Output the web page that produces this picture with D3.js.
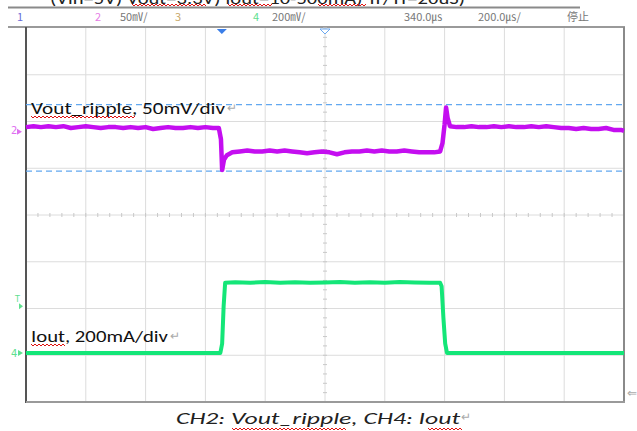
<!DOCTYPE html>
<html><head><meta charset="utf-8">
<script src="https://cdn.jsdelivr.net/npm/d3@7"></script>
<style>body{margin:0;background:#fff}svg{display:block}</style>
</head><body>
<script>
// ---- data ----
const timeDomain = [0, 2000];            // µs, 200 µs/div, 10 div
const divDomain = [-4, 4];               // 8 vertical divisions
const ch2Scale = 50;                     // mV/div
const ch4Scale = 200;                    // mA/div
const ch2Offset = 1.78;                  // div
const ch4Offset = -2.95;                 // div
const cursorsMv = [29, -42];             // CH2 cursors (mV)
const headerLabels = ["1","2","50㎷/","3","4","200㎷/","340.0㎲","200.0㎲/","停止"];
const titleText = "(Vin=5V) Vout=3.3V) Iout=10-500mA) Tr/Tf=20uS)";
const label1 = "Vout_ripple, 50mV/div";
const label2 = "Iout, 200mA/div";
const caption = "CH2: Vout_ripple, CH4: Iout";
const ch2Time = [0,25,50,75,100,125,150,175,200,225,250,275,300,325,350,375,400,425,450,475,500,525,550,575,600,625,645,652,656,662,672,690,715,740,765,790,815,840,865,890,915,940,965,990,1015,1040,1065,1090,1115,1140,1165,1190,1215,1240,1265,1290,1315,1340,1365,1385,1393,1400,1405,1410,1418,1440,1465,1490,1515,1540,1565,1590,1615,1640,1665,1690,1715,1740,1765,1790,1815,1840,1865,1890,1915,1940,1965,1990,2000];
const ch2Mv = [5,6,5,6,5,6,4,5,6,5,4,5,5,4,5,4,5,3,4,5,4,4,5,4,5,4,4,-8,-41,-30,-25,-22,-21,-20,-21,-21,-20,-21,-20,-21,-22,-23,-22,-21,-22,-24,-22,-21,-21,-20,-21,-20,-21,-21,-20,-21,-22,-22,-22,-21,-12,8,26,15,6,5,5,6,5,5,6,5,6,5,5,6,5,6,5,4,4,3,4,3,3,4,2,2,1];
const ch4Time = [0,300,650,656,661,666,700,750,800,850,900,950,1000,1050,1100,1150,1200,1250,1300,1350,1385,1390,1396,1402,1408,1500,2000];
const ch4Ma = [0,0,0,40,200,300,302,300,303,300,302,300,301,303,300,302,300,303,301,300,300,285,150,40,0,0,0];

// ---- layout ----
const W = 637, H = 431;
const L = 26, R = 624, T = 28, B = 402;
const svg = d3.select("body").append("svg").attr("width", W).attr("height", H);
svg.append("rect").attr("width", W).attr("height", H).attr("fill", "#fff");

const x = d3.scaleLinear().domain(timeDomain).range([L, R]);
const y = d3.scaleLinear().domain(divDomain).range([B, T]);

// title (clipped at top)
svg.append("text").attr("x", 50).attr("y", 4).attr("font-family", "Calibri, 'Liberation Sans', sans-serif")
  .attr("font-size", 17).attr("fill", "#222").attr("textLength", 415).attr("lengthAdjust", "spacingAndGlyphs").text(titleText);

function squiggle(x0, x1, yy) {
  let p = `M${x0},${yy}`;
  for (let xx = x0, i = 0; xx < x1; xx += 2, i++) p += `L${xx + 2},${yy + (i % 2 ? 0 : 2)}`;
  svg.append("path").attr("d", p).attr("fill", "none").attr("stroke", "#e01010").attr("stroke-width", 1);
}
[[132,205],[228,272],[318,365]].forEach(s => squiggle(s[0], s[1], 4));

// header lines
svg.append("line").attr("x1", 8).attr("x2", 580).attr("y1", 7.5).attr("y2", 7.5).attr("stroke", "#8a8a8a").attr("stroke-width", 2);
svg.append("line").attr("x1", 8).attr("x2", R + 1).attr("y1", 27).attr("y2", 27).attr("stroke", "#9a9a9a").attr("stroke-width", 2);

// header labels
const hx = [17, 95, 120, 175, 253, 272, 404, 478, 567];
const hc = ["#6a6ad8", "#e67ce6", "#777", "#c8a86a", "#5ee08e", "#777", "#777", "#777", "#777"];
svg.selectAll("text.hdr").data(headerLabels).enter().append("text").attr("class", "hdr")
  .attr("x", (d, i) => hx[i]).attr("y", 21).attr("fill", (d, i) => hc[i])
  .attr("font-family", "'Noto Sans CJK SC', 'DejaVu Sans', sans-serif").attr("font-size", 11)
  .text(d => d);

// grid
const gx = d3.range(1, 10).map(i => timeDomain[0] + i * 200);
const gy = d3.range(-3, 4);
const grid = svg.append("g");
grid.selectAll("line.v").data(gx).enter().append("line").attr("x1", d => x(d)).attr("x2", d => x(d))
  .attr("y1", T).attr("y2", B).attr("stroke", "#dcdcdc").attr("stroke-width", 1);
grid.selectAll("line.h").data(gy).enter().append("line").attr("y1", d => y(d)).attr("y2", d => y(d))
  .attr("x1", L).attr("x2", R).attr("stroke", "#dcdcdc").attr("stroke-width", 1);
// minor ticks on center axes
const minorX = d3.range(0, 51).map(i => timeDomain[0] + i * 40);
grid.selectAll("line.mx").data(minorX).enter().append("line").attr("x1", d => x(d)).attr("x2", d => x(d))
  .attr("y1", y(0) - 2).attr("y2", y(0) + 2).attr("stroke", "#c8c8c8");
const minorY = d3.range(-20, 21).map(i => i / 5);
grid.selectAll("line.my").data(minorY).enter().append("line").attr("y1", d => y(d)).attr("y2", d => y(d))
  .attr("x1", x(1000) - 2).attr("x2", x(1000) + 2).attr("stroke", "#c8c8c8");

// frame
svg.append("line").attr("x1", L).attr("x2", L).attr("y1", T - 1).attr("y2", B + 1).attr("stroke", "#555").attr("stroke-width", 2);
svg.append("line").attr("x1", R).attr("x2", R).attr("y1", T - 1).attr("y2", B + 1).attr("stroke", "#8a8a8a").attr("stroke-width", 2);
svg.append("line").attr("x1", L).attr("x2", R + 1).attr("y1", B).attr("y2", B).attr("stroke", "#9a9a9a").attr("stroke-width", 2);

// cursors
svg.selectAll("line.cur").data(cursorsMv).enter().append("line")
  .attr("x1", L).attr("x2", R).attr("y1", d => y(ch2Offset + d / ch2Scale)).attr("y2", d => y(ch2Offset + d / ch2Scale))
  .attr("stroke", "#62a8f0").attr("stroke-width", 1.2).attr("stroke-dasharray", "6,4");

// traces
const ch2 = ch2Time.map((t, i) => [t, ch2Mv[i]]);
const ch4 = ch4Time.map((t, i) => [t, ch4Ma[i]]);
svg.append("path").datum(ch2).attr("fill", "none").attr("stroke", "#c40ef0").attr("stroke-width", 4.5)
  .attr("stroke-linejoin", "round")
  .attr("d", d3.line().x(d => x(d[0])).y(d => y(ch2Offset + d[1] / ch2Scale)));
svg.append("path").datum(ch4).attr("fill", "none").attr("stroke", "#14e678").attr("stroke-width", 4)
  .attr("stroke-linejoin", "round")
  .attr("d", d3.line().x(d => x(d[0])).y(d => y(ch4Offset + d[1] / ch4Scale)));

// trigger markers at top
svg.append("path").attr("d", `M${x(655) - 5},${T + 1}L${x(655) + 5},${T + 1}L${x(655)},${T + 6}Z`).attr("fill", "#3a7ee8");
svg.append("path").attr("d", `M${x(1000) - 5},${T + 1}L${x(1000) + 5},${T + 1}L${x(1000)},${T + 6}Z`).attr("fill", "#fff").attr("stroke", "#6aa8f0");

// left channel markers
const m2 = y(ch2Offset), m4 = y(ch4Offset), mt = y(ch4Offset + 200 / ch4Scale);
svg.append("text").attr("x", 11).attr("y", m2 + 2).attr("font-size", 10).attr("fill", "#e070f0").attr("font-family", "DejaVu Sans").text("2");
svg.append("path").attr("d", `M17,${m2 - 3}L22,${m2}L17,${m2 + 3}Z`).attr("fill", "#e070f0");
svg.append("text").attr("x", 15).attr("y", mt - 4).attr("font-size", 8).attr("fill", "#5ee08e").attr("font-family", "DejaVu Sans").text("T");
svg.append("path").attr("d", `M19,${mt - 3}L23,${mt}L19,${mt + 3}Z`).attr("fill", "#5ee08e");
svg.append("text").attr("x", 11).attr("y", m4 + 4).attr("font-size", 10).attr("fill", "#5ee08e").attr("font-family", "DejaVu Sans").text("4");
svg.append("path").attr("d", `M18,${m4 - 3}L23,${m4}L18,${m4 + 3}Z`).attr("fill", "#5ee08e");

// labels
const lf = "Calibri, 'Open Sans', 'Liberation Sans', sans-serif";
svg.append("text").attr("x", 31).attr("y", 114).attr("font-family", lf).attr("font-size", 16).attr("fill", "#111")
  .attr("textLength", 194).attr("lengthAdjust", "spacingAndGlyphs").text(label1);
svg.append("text").attr("x", 227).attr("y", 112).attr("font-size", 12).attr("fill", "#aaa").text("↵");
squiggle(31, 135, 116);
svg.append("text").attr("x", 31).attr("y", 342).attr("font-family", lf).attr("font-size", 16).attr("fill", "#111")
  .attr("textLength", 137).attr("lengthAdjust", "spacingAndGlyphs").text(label2);
svg.append("text").attr("x", 170).attr("y", 340).attr("font-size", 12).attr("fill", "#aaa").text("↵");
squiggle(31, 65, 344);

// caption
svg.append("text").attr("x", 176).attr("y", 424).attr("font-family", lf).attr("font-style", "italic")
  .attr("font-size", 16).attr("fill", "#222").attr("textLength", 284).attr("lengthAdjust", "spacingAndGlyphs").text(caption);
svg.append("text").attr("x", 461).attr("y", 421).attr("font-size", 12).attr("fill", "#aaa").text("↵");
squiggle(232, 345, 428);
squiggle(428, 462, 428);
svg.append("text").attr("x", 627).attr("y", 397).attr("font-size", 12).attr("fill", "#aaa").text("⇐");
</script>
</body></html>
